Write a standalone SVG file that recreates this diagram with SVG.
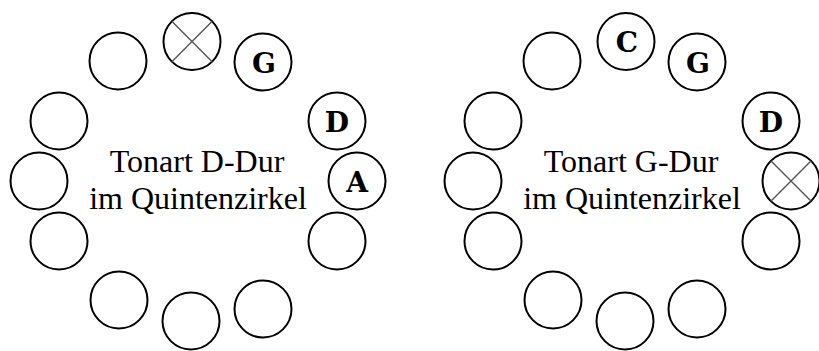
<svg xmlns="http://www.w3.org/2000/svg" width="819" height="351" viewBox="0 0 819 351">
<defs>
<style>
.c{fill:#fff;stroke:#000;stroke-width:2}
.x{stroke:#555;stroke-width:1.4}
.l{font-family:"DejaVu Serif","Liberation Serif",serif;font-weight:bold;font-size:28px;text-anchor:middle;fill:#000}
.t{font-family:"Liberation Serif","Times New Roman",serif;font-size:32px;text-anchor:middle;fill:#000}
</style>
<g id="cross"><path class="x" d="M-20.2,-20.2L20.2,20.2M20.2,-20.2L-20.2,20.2"/></g>
</defs>
<rect width="819" height="351" fill="#fff"/>
<g id="d-dur">
<g id="d1"><circle class="c" cx="192" cy="41.5" r="28.5"/><use href="#cross" x="192" y="41.5"/></g>
<g id="d2"><circle class="c" cx="263" cy="62" r="28.5"/><text class="l" x="264" y="73">G</text></g>
<g id="d3"><circle class="c" cx="337" cy="121" r="28.5"/><text class="l" x="337" y="132">D</text></g>
<g id="d4"><circle class="c" cx="357" cy="181" r="28.5"/><text class="l" x="357" y="192">A</text></g>
<g id="d5"><circle class="c" cx="337" cy="241" r="28.5"/></g>
<g id="d6"><circle class="c" cx="263" cy="309" r="28.5"/></g>
<g id="d7"><circle class="c" cx="191" cy="321" r="28.5"/></g>
<g id="d8"><circle class="c" cx="119" cy="300" r="28.5"/></g>
<g id="d9"><circle class="c" cx="59" cy="241" r="28.5"/></g>
<g id="d10"><circle class="c" cx="39" cy="181" r="28.5"/></g>
<g id="d11"><circle class="c" cx="59" cy="121" r="28.5"/></g>
<g id="d12"><circle class="c" cx="118" cy="61" r="28.5"/></g>
<g id="d-label"><text class="t" x="197" y="172">Tonart D-Dur</text><text class="t" x="198" y="209">im Quintenzirkel</text></g>
</g>
<g id="g-dur">
<g id="g1"><circle class="c" cx="626" cy="41.5" r="28.5"/><text class="l" x="627" y="52">C</text></g>
<g id="g2"><circle class="c" cx="697" cy="62" r="28.5"/><text class="l" x="698" y="73">G</text></g>
<g id="g3"><circle class="c" cx="771" cy="121" r="28.5"/><text class="l" x="771" y="132">D</text></g>
<g id="g4"><circle class="c" cx="791" cy="181" r="28.5"/><use href="#cross" x="791" y="181"/></g>
<g id="g5"><circle class="c" cx="771" cy="241" r="28.5"/></g>
<g id="g6"><circle class="c" cx="697" cy="309" r="28.5"/></g>
<g id="g7"><circle class="c" cx="625" cy="321" r="28.5"/></g>
<g id="g8"><circle class="c" cx="553" cy="300" r="28.5"/></g>
<g id="g9"><circle class="c" cx="493" cy="241" r="28.5"/></g>
<g id="g10"><circle class="c" cx="473" cy="181" r="28.5"/></g>
<g id="g11"><circle class="c" cx="493" cy="121" r="28.5"/></g>
<g id="g12"><circle class="c" cx="552" cy="61" r="28.5"/></g>
<g id="g-label"><text class="t" x="631" y="172">Tonart G-Dur</text><text class="t" x="632" y="209">im Quintenzirkel</text></g>
</g>
</svg>
